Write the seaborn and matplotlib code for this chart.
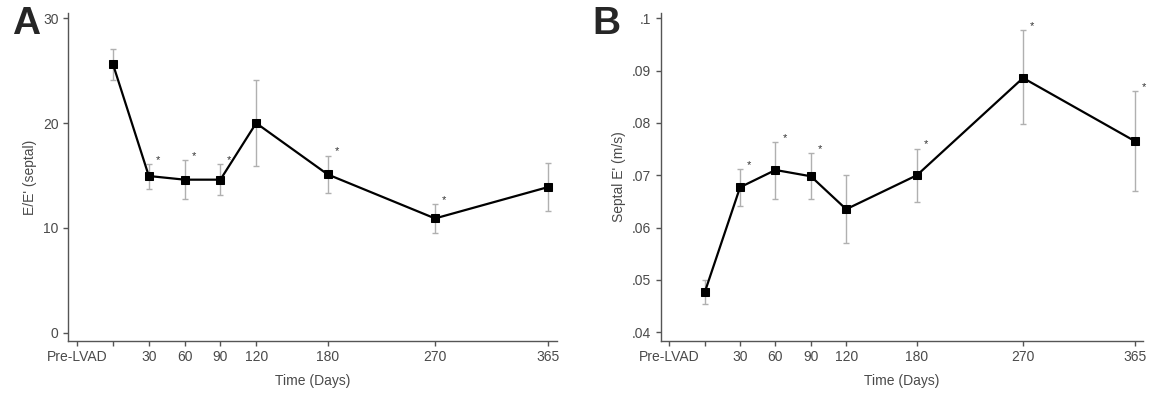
import matplotlib
matplotlib.use("Agg")
import matplotlib.pyplot as plt
import seaborn as sns
import pandas as pd

# Zeitpunkte (Tage nach LVAD), Pre-LVAD = 0
tage = [0, 30, 60, 90, 120, 180, 270, 365]

# Panel A: E/E' (septal)
ee_mittel = [25.6, 14.95, 14.6, 14.6, 20.0, 15.1, 10.9, 13.9]
ee_oben = [27.1, 16.1, 16.5, 16.1, 24.1, 16.9, 12.3, 16.2]
ee_unten = [24.1, 13.7, 12.8, 13.1, 15.9, 13.3, 9.5, 11.6]
ee_stern = [False, True, True, True, False, True, True, False]

# Panel B: Septal E' (m/s)
se_mittel = [0.0476, 0.0677, 0.0710, 0.0698, 0.0635, 0.0700, 0.0886, 0.0765]
se_oben = [0.0499, 0.0712, 0.0764, 0.0742, 0.0701, 0.0751, 0.0977, 0.0861]
se_unten = [0.0453, 0.0641, 0.0655, 0.0655, 0.0571, 0.0648, 0.0797, 0.0670]
se_stern = [False, True, True, True, False, True, True, True]

x_ticks = [-30, 0, 30, 60, 90, 120, 180, 270, 365]
x_labels = ["Pre-LVAD", "", "30", "60", "90", "120", "180", "270", "365"]

sns.set_style("ticks")
plt.rcParams['font.family'] = ['Liberation Sans', 'DejaVu Sans']

grau = "#555555"
text_grau = "#4a4a4a"
fig = plt.figure(figsize=(11.6, 3.96), dpi=100)
ax_a = fig.add_axes([0.0589, 0.1389, 0.4210, 0.828])
ax_b = fig.add_axes([0.5694, 0.1389, 0.4162, 0.828])


def panel(ax, mittel, oben, unten, stern, ylabel, ylim, yticks, ylabels, buchstabe, bx):
    df = pd.DataFrame({'tag': tage, 'wert': mittel, 'oben': oben, 'unten': unten})
    fehler = [df['wert'] - df['unten'], df['oben'] - df['wert']]
    ax.errorbar(df['tag'], df['wert'], yerr=fehler, fmt='none', ecolor='#b0b0b0',
                elinewidth=1.0, capsize=2.5, capthick=1.0, zorder=1)
    sns.lineplot(data=df, x='tag', y='wert', ax=ax, color='black', lw=1.6,
                 marker='s', markersize=5.5, markeredgecolor='black', zorder=3)
    for t, o, s in zip(tage, oben, stern):
        if s:
            ax.annotate('*', (t, o), xytext=(6.5, 3), textcoords='offset points',
                        ha='center', va='center', fontsize=8, color='#333333')
    ax.set_xlim(-37.5, 372)
    ax.set_ylim(*ylim)
    ax.set_xticks(x_ticks)
    ax.set_xticklabels(x_labels)
    ax.set_yticks(yticks)
    ax.set_yticklabels(ylabels)
    ax.set_xlabel("Time (Days)", fontsize=10, color=text_grau, labelpad=7)
    ax.set_ylabel(ylabel, fontsize=10, color=text_grau, labelpad=4)
    ax.tick_params(colors=grau, labelcolor=text_grau, labelsize=10, length=3.5, width=1)
    ax.tick_params(axis='x', pad=3)
    for seite in ['top', 'right']:
        ax.spines[seite].set_visible(False)
    for seite in ['left', 'bottom']:
        ax.spines[seite].set_color(grau)
        ax.spines[seite].set_linewidth(1.0)
    fig.text(bx, 0.985, buchstabe, fontsize=28, fontweight='bold', va='top', ha='left',
             family=['Liberation Sans', 'DejaVu Sans'])


panel(ax_a, ee_mittel, ee_oben, ee_unten, ee_stern, "E/E' (septal)",
      (-0.8, 30.5), [0, 10, 20, 30], ["0", "10", "20", "30"], "A", 0.010)
panel(ax_b, se_mittel, se_oben, se_unten, se_stern, "Septal E' (m/s)",
      (0.0383, 0.101), [0.04, 0.05, 0.06, 0.07, 0.08, 0.09, 0.1],
      [".04", ".05", ".06", ".07", ".08", ".09", ".1"], "B", 0.511)

plt.savefig("out.png", dpi=100)
